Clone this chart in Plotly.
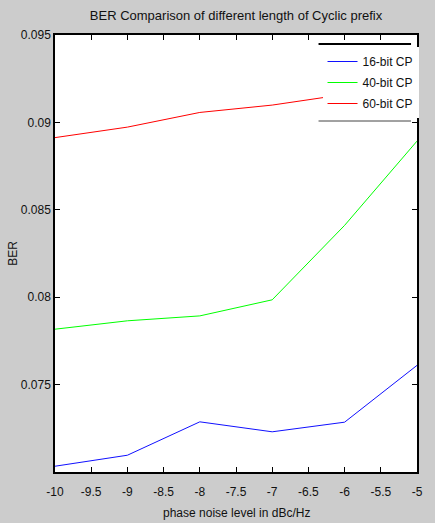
import plotly.graph_objects as go

# Data
phase_noise = [-10, -9, -8, -7, -6, -5]
ber_16bit = [0.07033, 0.07096, 0.07287, 0.07230, 0.07285, 0.07610]
ber_40bit = [0.07817, 0.07865, 0.07893, 0.07985, 0.08411, 0.08893]
ber_60bit = [0.08913, 0.08973, 0.09057, 0.09099, 0.09160, 0.09217]

series_names = ["16-bit CP", "40-bit CP", "60-bit CP"]
series_colors = ["#1010ff", "#00ff00", "#ff0000"]

x_tickvals = [-10, -9.5, -9, -8.5, -8, -7.5, -7, -6.5, -6, -5.5, -5]
x_ticktext = ["-10", "-9.5", "-9", "-8.5", "-8", "-7.5", "-7", "-6.5", "-6", "-5.5", "-5"]
y_tickvals = [0.075, 0.08, 0.085, 0.09, 0.095]
y_ticktext = ["0.075", "0.08", "0.085", "0.09", "0.095"]

FONT = "Liberation Sans Narrow, Arial Narrow, Liberation Sans, Arial, sans-serif"

fig = go.Figure()
for name, ys, col in zip(series_names, [ber_16bit, ber_40bit, ber_60bit], series_colors):
    fig.add_trace(go.Scatter(x=phase_noise, y=ys, mode="lines", name=name,
                             legendgroup=name,
                             line=dict(color=col, width=1)))

W, H = 435, 523
L, R, T, B = 55, 16, 35, 51
pw, ph = W - L - R, H - T - B

fig.update_layout(
    width=W, height=H,
    margin=dict(l=L, r=R, t=T, b=B, pad=0),
    paper_bgcolor="#cccccc",
    plot_bgcolor="#ffffff",
    font=dict(family=FONT, size=12, color="#111111"),
    showlegend=True,
    title=dict(text="BER Comparison of different length of Cyclic prefix",
               x=0.5, xref="paper", xanchor="center",
               y=1 - 15 / H, yref="container", yanchor="middle",
               font=dict(family=FONT, size=13, color="#111111")),
    legend=dict(x=(324 - L) / pw, y=(T + ph - 47) / ph, xanchor="left", yanchor="top",
                bgcolor="#ffffff", borderwidth=0, font=dict(family=FONT, size=12),
                traceorder="grouped", tracegroupgap=2, itemwidth=30),
    xaxis=dict(range=[-10, -5], tickvals=x_tickvals, ticktext=x_ticktext,
               ticks="inside", ticklen=5, tickcolor="#000000", tickwidth=1,
               ticklabelstandoff=8,
               showline=True, linecolor="#000000", linewidth=1.5, mirror="ticks",
               showgrid=False, zeroline=False, tickfont=dict(size=12)),
    yaxis=dict(range=[0.070, 0.095], tickvals=y_tickvals, ticktext=y_ticktext,
               ticks="inside", ticklen=5, tickcolor="#000000", tickwidth=1,
               showline=True, linecolor="#000000", linewidth=1.5, mirror="ticks",
               showgrid=False, zeroline=False, tickfont=dict(size=12)),
    annotations=[
        dict(text="phase noise level in dBc/Hz", xref="paper", yref="paper",
             x=0.5, y=(472 - 513) / ph, xanchor="center", yanchor="middle",
             showarrow=False, font=dict(family=FONT, size=12)),
        dict(text="BER", xref="paper", yref="paper", textangle=-90,
             x=(12 - L) / pw, y=0.5, xanchor="center", yanchor="middle",
             showarrow=False, font=dict(family=FONT, size=12)),
    ],
    shapes=[
        dict(type="line", xref="paper", yref="paper",
             x0=(320 - L) / pw, x1=(413 - L) / pw,
             y0=(472 - 44) / ph, y1=(472 - 44) / ph,
             line=dict(color="#000000", width=2), layer="above"),
        dict(type="line", xref="paper", yref="paper",
             x0=(320 - L) / pw, x1=(413 - L) / pw,
             y0=(472 - 121) / ph, y1=(472 - 121) / ph,
             line=dict(color="#444444", width=1), layer="above"),
    ],
)

fig.write_html("out.html")
